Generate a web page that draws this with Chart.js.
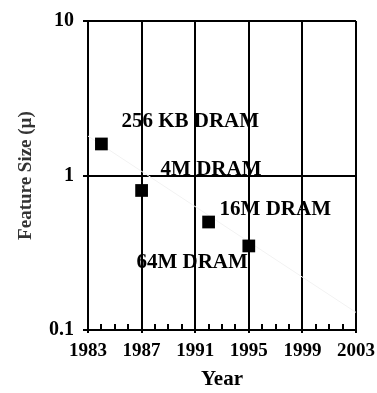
<!DOCTYPE html>
<html>
<head>
<meta charset="utf-8">
<script src="https://cdn.jsdelivr.net/npm/chart.js@4"></script>
<style>
  html, body { margin: 0; padding: 0; background: #fff; }
  #wrap { width: 377px; height: 393px; }
</style>
</head>
<body>
<div id="wrap"><canvas id="dramChart"></canvas></div>
<script>
  // DRAM generations and their feature size (microns)
  const chips = ['256 KB DRAM', '4M DRAM', '16M DRAM', '64M DRAM']
  const years = [1984, 1987, 1992, 1995]
  const featureSize = [1.6, 0.8, 0.5, 0.35]

  // faint trend line
  const trendYears = [1983, 2003]
  const trendValues = [1.8, 0.13]

  const yearTicks = [1983, 1987, 1991, 1995, 1999, 2003]
  const sizeTicks = [0.1, 1, 10]

  const font = 'Liberation Serif, Times New Roman, serif'

  // where each label sits relative to its point (px)
  const labelOffsets = [
    { dx: 20, dy: -22, align: 'left' },
    { dx: 19, dy: -21, align: 'left' },
    { dx: 11, dy: -12, align: 'left' },
    { dx: -1, dy: 17, align: 'right' }
  ]

  const chipLabels = {
    id: 'chipLabels',
    afterDatasetsDraw(chart) {
      const ctx = chart.ctx
      const xs = chart.scales.x, ys = chart.scales.y
      ctx.save()
      ctx.font = 'bold 21px ' + font
      ctx.fillStyle = '#000'
      ctx.textBaseline = 'middle'
      chips.forEach((name, i) => {
        const o = labelOffsets[i]
        ctx.textAlign = o.align
        ctx.fillText(name, xs.getPixelForValue(years[i]) + o.dx, ys.getPixelForValue(featureSize[i]) + o.dy)
      })
      ctx.restore()
    }
  }

  // small inward ticks for every year on the x axis
  const minorTicks = {
    id: 'minorTicks',
    afterDraw(chart) {
      const ctx = chart.ctx
      const xs = chart.scales.x
      const bottom = chart.chartArea.bottom
      ctx.save()
      ctx.strokeStyle = '#000'
      ctx.lineWidth = 2
      for (let yr = yearTicks[0]; yr <= yearTicks[yearTicks.length - 1]; yr++) {
        if (yearTicks.includes(yr)) continue
        const px = Math.round(xs.getPixelForValue(yr))
        ctx.beginPath()
        ctx.moveTo(px, bottom)
        ctx.lineTo(px, bottom - 6)
        ctx.stroke()
      }
      ctx.restore()
    }
  }

  const ctx = document.getElementById('dramChart').getContext('2d')
  new Chart(ctx, {
    type: 'scatter',
    data: {
      datasets: [{
        data: years.map((x, i) => ({ x: x, y: featureSize[i] })),
        pointStyle: 'rect',
        pointRadius: 9,
        pointHoverRadius: 9,
        pointBorderWidth: 0,
        backgroundColor: '#000',
        borderColor: '#000'
      }, {
        data: trendYears.map((x, i) => ({ x: x, y: trendValues[i] })),
        showLine: true,
        pointRadius: 0,
        borderColor: '#f2f2f2',
        borderWidth: 1
      }]
    },
    options: {
      responsive: true,
      maintainAspectRatio: false,
      animation: false,
      layout: { padding: { top: 19, right: 21, left: 0, bottom: 0 } },
      plugins: {
        legend: { display: false },
        tooltip: { enabled: false }
      },
      scales: {
        x: {
          type: 'linear',
          min: 1983,
          max: 2003,
          afterBuildTicks: s => { s.ticks = yearTicks.map(v => ({ value: v })) },
          afterFit: s => {
            s.height = 63
            s.paddingLeft = 0
            s.paddingRight = 0
          },
          border: { color: '#000', width: 2 },
          grid: { color: '#000', lineWidth: 2, tickLength: 3, tickColor: '#000' },
          ticks: {
            autoSkip: false,
            maxRotation: 0,
            padding: 7,
            color: '#000',
            font: { family: font, size: 19, weight: 'bold' },
            callback: v => String(v)
          },
          title: {
            display: true,
            text: 'Year',
            color: '#000',
            padding: { top: 0, bottom: 1 },
            font: { family: font, size: 21, weight: 'bold' }
          }
        },
        y: {
          type: 'logarithmic',
          min: 0.1,
          max: 10,
          afterBuildTicks: s => { s.ticks = sizeTicks.map(v => ({ value: v })) },
          afterFit: s => { s.width = 88 },
          border: { color: '#000', width: 2 },
          grid: { color: '#000', lineWidth: 2, tickLength: 5, tickColor: '#000' },
          ticks: {
            padding: 9,
            color: '#000',
            font: { family: font, size: 20, weight: 'bold' },
            callback: v => String(v)
          },
          title: {
            display: true,
            text: 'Feature Size (µ)',
            color: '#333',
            padding: { top: 15, bottom: 0 },
            font: { family: font, size: 19, weight: 'bold' }
          }
        }
      }
    },
    plugins: [chipLabels, minorTicks]
  })
</script>
</body>
</html>
